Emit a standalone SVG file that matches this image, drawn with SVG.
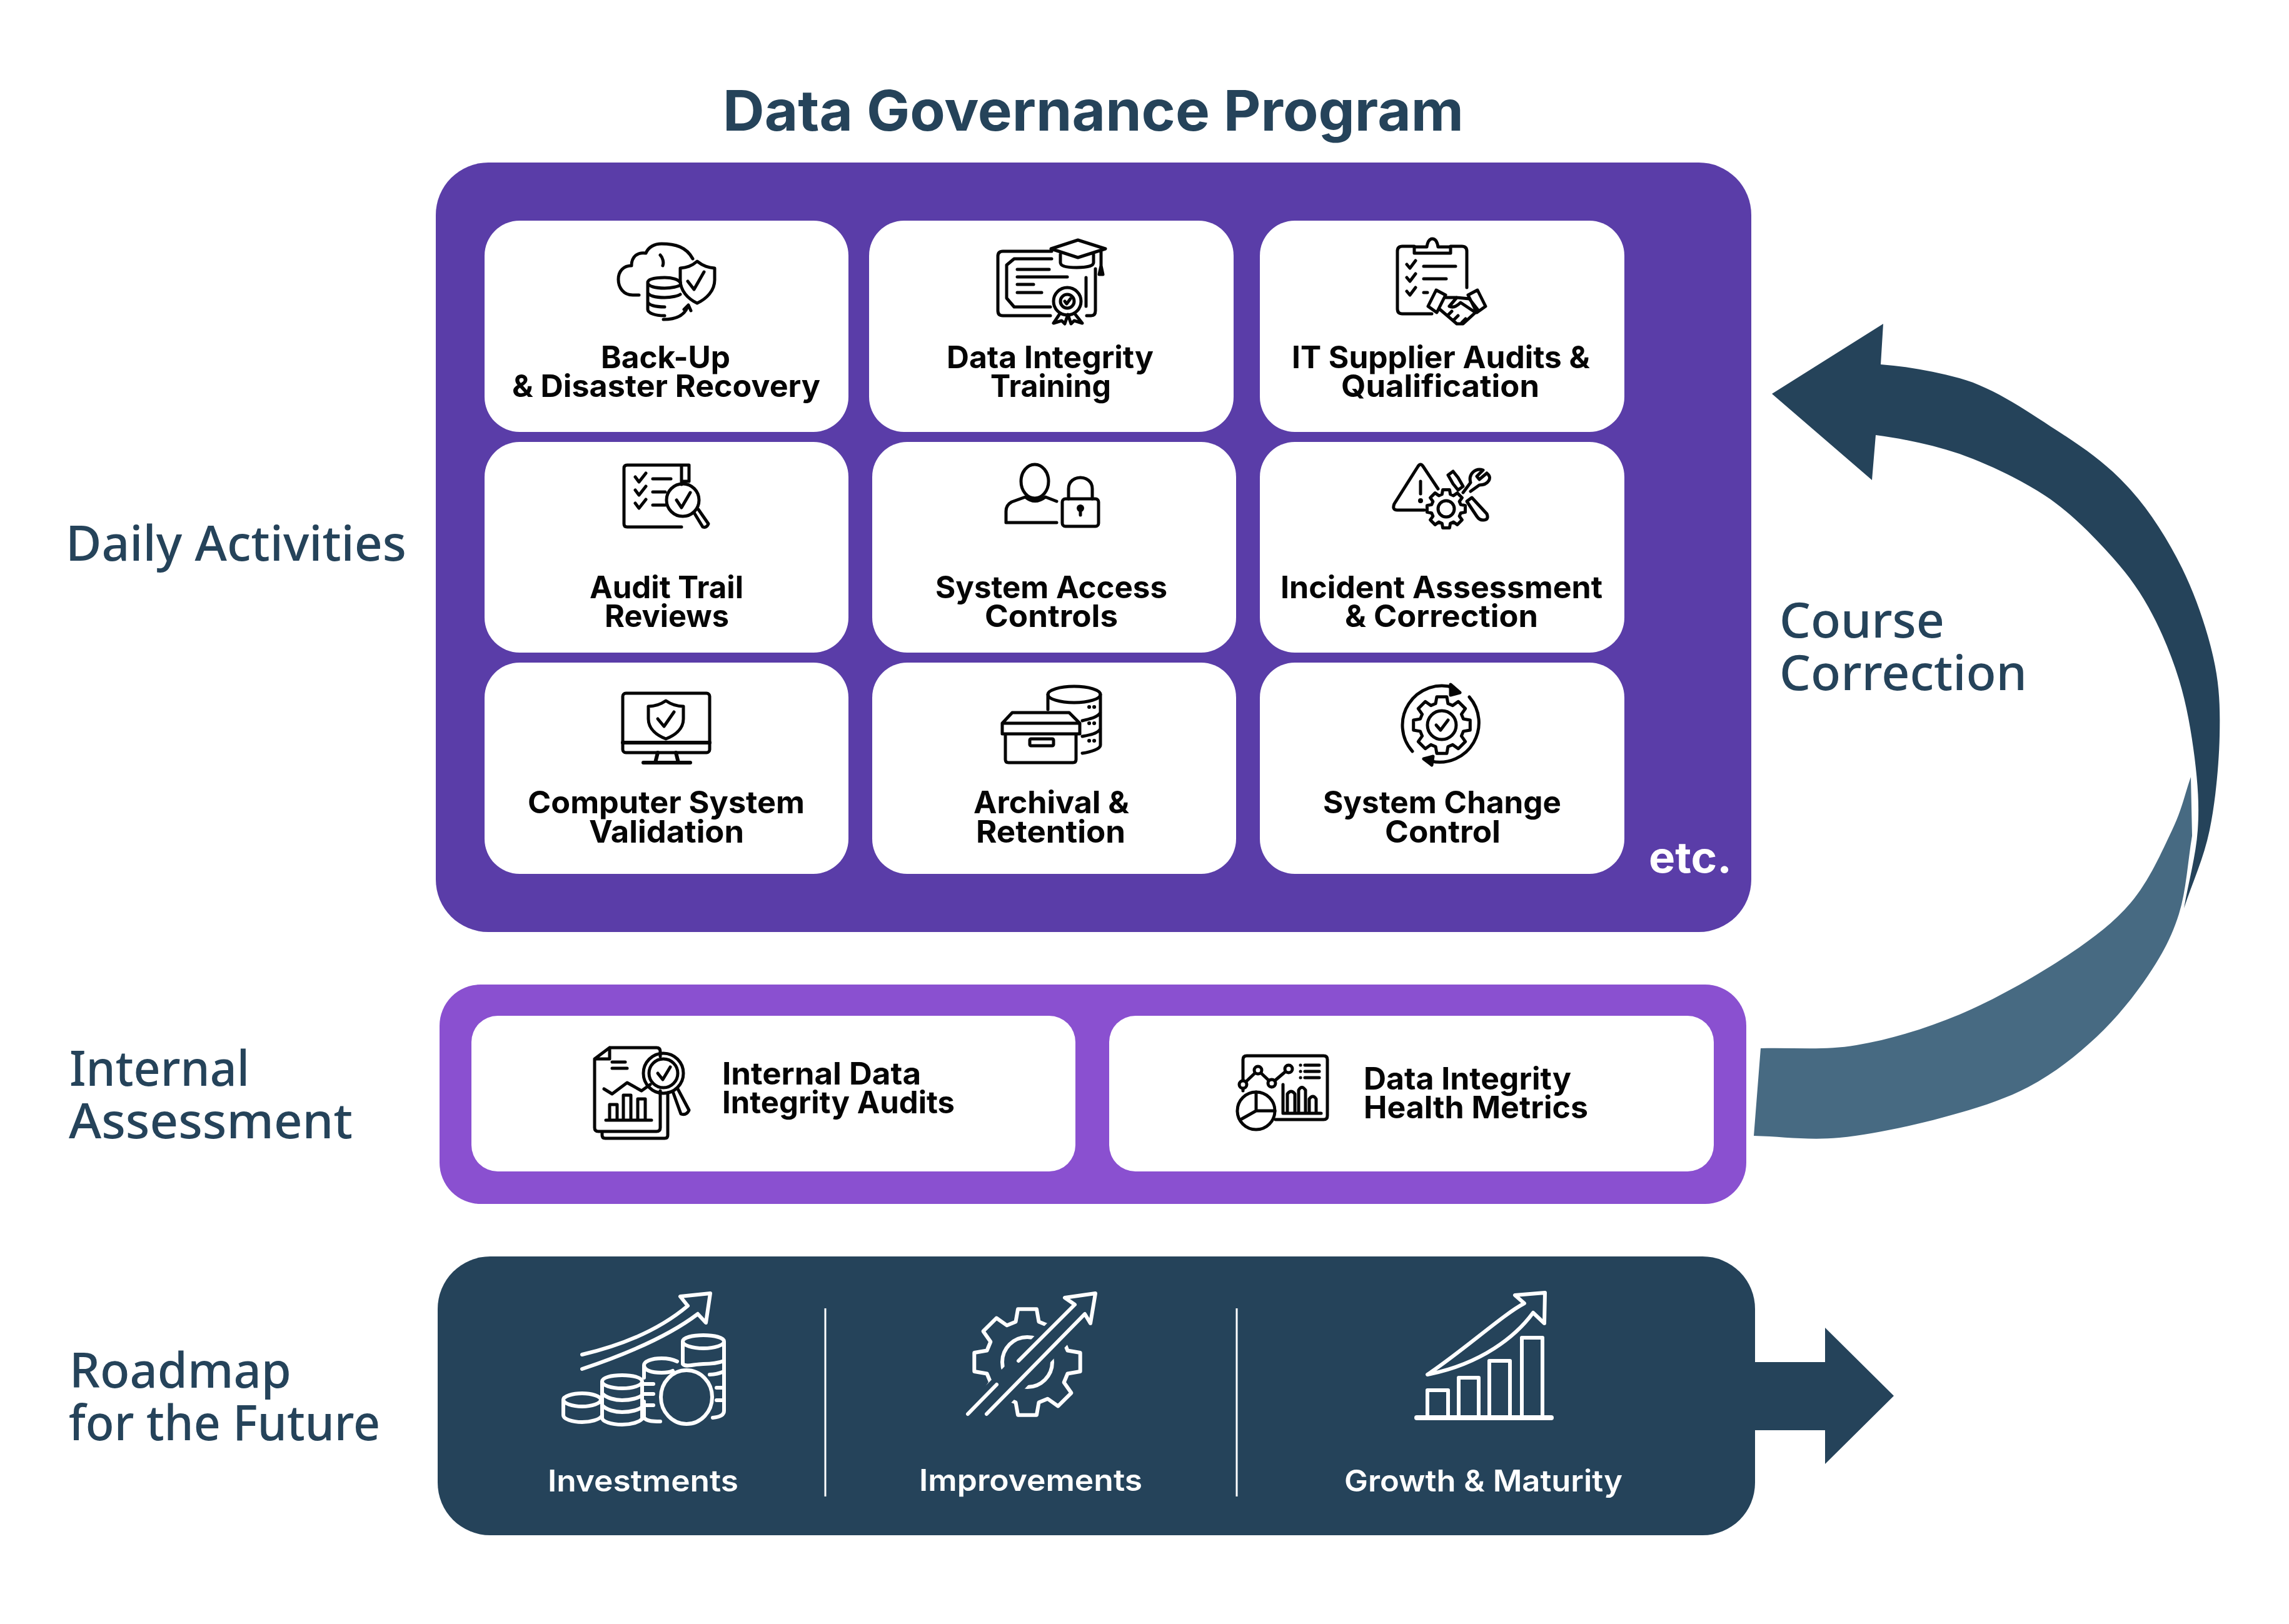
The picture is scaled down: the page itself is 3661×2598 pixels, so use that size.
<svg xmlns="http://www.w3.org/2000/svg" width="3661" height="2598" viewBox="0 0 3661 2598">
<style>
.w{fill:#fff}
.ln{font-family:"Inter","Liberation Sans",sans-serif;font-weight:700;font-size:49px;fill:#050505}
.wt{font-family:"Inter","Liberation Sans",sans-serif;font-weight:600;font-size:48px;fill:#fff}
.side{font-family:"Noto Sans","Liberation Sans",sans-serif;font-weight:500;font-size:78px;fill:#25435a}
.title{font-family:"Inter","Liberation Sans",sans-serif;font-weight:700;font-size:90px;fill:#25435a}
.etc{font-family:"Inter","Liberation Sans",sans-serif;font-weight:700;font-size:68px;fill:#fff}
.i{fill:none;stroke:#050505;stroke-width:5;stroke-linecap:round;stroke-linejoin:round}
.j{fill:none;stroke:#fff;stroke-width:6;stroke-linecap:round;stroke-linejoin:round}
.f{fill:#050505;stroke:none}
.ns{vector-effect:non-scaling-stroke}
</style>
<defs>
<polygon id="gear" class="ns" points="75,-21.5 98.5,-17.4 98.5,17.4 75,21.5 68.2,37.8 81.9,57.3 57.3,81.9 37.8,68.2 21.5,75 17.4,98.5 -17.4,98.5 -21.5,75 -37.8,68.2 -57.3,81.9 -81.9,57.3 -68.2,37.8 -75,21.5 -98.5,17.4 -98.5,-17.4 -75,-21.5 -68.2,-37.8 -81.9,-57.3 -57.3,-81.9 -37.8,-68.2 -21.5,-75 -17.4,-98.5 17.4,-98.5 21.5,-75 37.8,-68.2 57.3,-81.9 81.9,-57.3 68.2,-37.8"/>
</defs>
<rect width="3661" height="2598" fill="#fff"/>
<text class="title" x="1156" y="209" textLength="1185" lengthAdjust="spacingAndGlyphs">Data Governance Program</text>
<g id="labels">
<text class="side" x="105" y="897" textLength="545" lengthAdjust="spacingAndGlyphs">Daily Activities</text>
<text class="side" x="111" y="1737" textLength="288" lengthAdjust="spacingAndGlyphs">Internal</text>
<text class="side" x="110" y="1821" textLength="454" lengthAdjust="spacingAndGlyphs">Assessment</text>
<text class="side" x="111" y="2220" textLength="355" lengthAdjust="spacingAndGlyphs">Roadmap</text>
<text class="side" x="110" y="2304" textLength="498" lengthAdjust="spacingAndGlyphs">for the Future</text>
<text class="side" x="2846" y="1020" textLength="264" lengthAdjust="spacingAndGlyphs">Course</text>
<text class="side" x="2846" y="1104" textLength="396" lengthAdjust="spacingAndGlyphs">Correction</text>
</g>
<g id="connectors">
<path id="course-correction-lower" fill="#476a82" d="M2816 1677 C2867 1675.3 2916 1681 2969 1672 C3022 1663 3079.2 1646 3134 1623 C3188.8 1600 3252.3 1563.8 3298 1534 C3343.7 1504.2 3378.7 1478.3 3408 1444 C3437.3 1409.7 3458 1361.5 3474 1328 C3490 1294.5 3494 1271.3 3504 1243 L3506 1337 C3499 1378.7 3496.7 1424.8 3485 1462 C3473.3 1499.2 3458 1527.2 3436 1560 C3414 1592.8 3385 1629.2 3353 1659 C3321 1688.8 3285.2 1717.5 3244 1739 C3202.8 1760.5 3156.3 1774.5 3106 1788 C3055.7 1801.5 2992.2 1815.2 2942 1820 C2891.8 1824.8 2850.7 1818 2805 1817 Z"/>
<path id="course-correction-upper" fill="#25435a" d="M2834 630 L3012 518 L3008 583 C3050 586 3092 594 3134 605 C3190 620 3250 663 3298 694 C3343.7 723.8 3376 748.2 3408 784 C3440 819.8 3468 864.3 3490 909 C3512 953.7 3530 1007.3 3540 1052 C3550 1096.7 3551 1131 3550 1177 C3549 1223 3543.5 1282 3534 1328 C3524.5 1374 3506.7 1411.3 3493 1453 C3500.3 1411.3 3512.2 1368.2 3515 1328 C3517.8 1287.8 3515 1252.2 3510 1212 C3505 1171.8 3497.3 1127.2 3485 1087 C3472.7 1046.8 3455.2 1005.2 3436 971 C3416.8 936.8 3397.5 911.7 3370 882 C3342.5 852.3 3310.3 819 3271 793 C3231.7 767 3179.2 742.2 3134 726 C3088.8 711 3044.7 702 3000 696 L2994 768 Z"/>
<path id="roadmap-arrow" fill="#25435a" d="M2800 2179 H2919 V2124 L3029 2233 L2919 2342 V2288 H2800 Z"/>
</g>
<g id="daily-activities"><rect x="697" y="260" width="2104" height="1231" rx="84" fill="#5a3da8"/>
<text class="etc" x="2637" y="1396" textLength="133" lengthAdjust="spacingAndGlyphs">etc.</text></g>

<g id="backup"><rect class="w" x="775" y="353" width="582" height="338" rx="56"/>
<g class="i"><path d="M1022 472 H1012 C997 472 989 460 989 447 C989 433 998 425 1010 425 C1010 410 1020 403 1033 405 C1037 395 1047 390 1058 390 C1080 390 1098 395 1108 414 M1056 408 C1060 412 1062 420 1060 425"/>
<path d="M1036 452 V495 C1036 501 1048 505 1063 505 M1036 452 C1036 446 1048 444 1063 444 C1075 444 1085 447 1088 452 M1036 452 C1036 458 1048 461 1063 461 C1075 461 1085 458 1088 456 M1036 467 C1036 473 1048 476 1063 476 C1075 476 1085 473 1088 471 M1036 482 C1036 488 1048 491 1063 491"/>
<path d="M1115 418 C1125 426 1133 428 1143 429 V448 C1143 465 1130 478 1115 485 C1100 478 1088 465 1088 448 V429 C1098 428 1106 426 1115 418 Z M1100 450 L1110 463 L1126 435"/>
<path d="M1061 511 C1080 511 1095 505 1100 490 M1094 495 L1101 488 L1105 497"/></g>
<text class="ln" x="961" y="589" textLength="207" lengthAdjust="spacingAndGlyphs">Back-Up</text>
<text class="ln" x="819" y="635" textLength="493" lengthAdjust="spacingAndGlyphs">&amp; Disaster Recovery</text></g>

<g id="training"><rect class="w" x="1390" y="353" width="583" height="338" rx="56"/>
<g class="i"><path d="M1682 402 H1604 Q1596 402 1596 410 V497 Q1596 505 1604 505 H1680 M1682 414 H1622 L1610 424 V477 L1622 491 H1680 M1738 505 H1745 Q1752 505 1752 497 V430 M1737 444 V490"/>
<path d="M1627 431 H1678 M1627 443 H1707 M1627 455 H1653 M1627 468 H1666"/>
<path d="M1724 384 L1768 398 L1724 412 L1681 398 Z M1696 407 V420 Q1696 428 1722 428 Q1749 428 1749 420 V407 M1761 402 V425 M1758 439 L1761 425 L1764 439 Z"/>
<circle cx="1707" cy="482" r="22"/><circle cx="1707" cy="482" r="11"/><path d="M1695 502 L1685 517 L1698 513 L1703 518 L1708 503 L1713 518 L1718 513 L1731 517 L1719 502"/><path d="M1703 482 L1706 486 L1712 478"/></g>
<text class="ln" x="1514" y="589" textLength="331" lengthAdjust="spacingAndGlyphs">Data Integrity</text>
<text class="ln" x="1584" y="635" textLength="193" lengthAdjust="spacingAndGlyphs">Training</text></g>

<g id="supplier"><rect class="w" x="2015" y="353" width="583" height="338" rx="56"/>
<g class="i"><path d="M2262 394 H2243 Q2235 394 2235 402 V494 Q2235 502 2243 502 H2290 M2320 394 H2338 Q2346 394 2346 402 V460"/>
<path d="M2262 395 H2282 Q2284 382 2291 382 Q2298 382 2300 395 H2320 V405 H2262 Z"/>
<path d="M2250 423 L2255 429 L2264 417 M2250 444 L2255 450 L2264 438 M2250 466 L2255 472 L2264 460 M2277 426 H2328 M2277 446 H2313 M2277 468 H2283"/>
<path d="M2284 490 L2297 464 L2312 472 L2298 500 Z M2376 490 L2363 464 L2348 472 L2362 500 Z M2312 476 H2330 L2350 478 L2364 496 L2340 518 L2330 518 L2303 495 M2330 476 L2318 490 Q2326 494 2336 484 L2360 500 M2316 504 L2322 498 M2325 512 L2332 505 M2338 516 L2344 510"/></g>
<text class="ln" x="2066" y="589" textLength="477" lengthAdjust="spacingAndGlyphs">IT Supplier Audits &amp;</text>
<text class="ln" x="2145" y="635" textLength="317" lengthAdjust="spacingAndGlyphs">Qualification</text></g>

<g id="audit-trail"><rect class="w" x="775" y="707" width="582" height="337" rx="56"/>
<g class="i"><path d="M1090 843 H1003 Q998 843 998 838 V749 Q998 744 1003 744 H1102 V770 H1090 V744 M1090 770 V775"/>
<path d="M1016 763 L1022 771 L1033 757 M1016 784 L1022 792 L1033 778 M1016 805 L1022 813 L1033 799 M1044 766 H1073 M1044 787 H1064 M1044 808 H1064"/>
<circle cx="1092" cy="800" r="26"/><path d="M1082 800 L1090 812 L1104 788"/>
<path d="M1110 820 L1124 843 Q1130 845 1133 838 L1117 815"/></g>
<text class="ln" x="943" y="957" textLength="246" lengthAdjust="spacingAndGlyphs">Audit Trail</text>
<text class="ln" x="967" y="1003" textLength="199" lengthAdjust="spacingAndGlyphs">Reviews</text></g>

<g id="access"><rect class="w" x="1395" y="707" width="582" height="337" rx="56"/>
<g class="i"><ellipse cx="1655" cy="770" rx="22" ry="27"/><path d="M1690 802 L1672 795 Q1655 808 1640 795 L1618 803 Q1609 808 1609 818 V836 H1690"/>
<rect x="1699" y="798" width="58" height="44" rx="5"/><path d="M1709 798 V782 C1709 758 1747 758 1747 782 V798"/><circle class="f" cx="1728" cy="813" r="6"/><path d="M1728 813 V824"/></g>
<text class="ln" x="1496" y="957" textLength="371" lengthAdjust="spacingAndGlyphs">System Access</text>
<text class="ln" x="1575" y="1003" textLength="213" lengthAdjust="spacingAndGlyphs">Controls</text></g>

<g id="incident"><rect class="w" x="2015" y="707" width="583" height="337" rx="56"/>
<g class="i"><path d="M2278 816 H2235 Q2226 816 2230 806 L2268 746 Q2272 740 2276 746 L2300 782"/><path d="M2272 770 V790"/><circle class="f" cx="2272" cy="801" r="4"/>
<use href="#gear" transform="translate(2313 814) scale(.31)"/><circle cx="2313" cy="814" r="13"/>
<path d="M2316 760 L2324 754 L2332 764 L2340 778 L2332 784 L2324 774 Z M2378 757 L2366 767 L2362 762 L2372 752 C2360 748 2348 758 2352 772 L2340 788 M2352 786 L2366 776 C2380 776 2388 764 2378 757"/>
<path d="M2346 802 L2354 796 L2378 822 Q2382 832 2372 832 Q2366 832 2362 826 Z"/></g>
<text class="ln" x="2048" y="957" textLength="515" lengthAdjust="spacingAndGlyphs">Incident Assessment</text>
<text class="ln" x="2151" y="1003" textLength="309" lengthAdjust="spacingAndGlyphs">&amp; Correction</text></g>

<g id="csv"><rect class="w" x="775" y="1060" width="582" height="338" rx="56"/>
<g class="i"><rect x="996" y="1109" width="139" height="95" rx="5"/><path d="M996 1188 H1135 M1052 1204 L1048 1220 M1081 1204 L1085 1220 M1029 1220 H1104" stroke-width="6"/>
<path d="M1065 1121 Q1078 1130 1093 1130 V1150 C1093 1167 1078 1177 1065 1182 C1052 1177 1037 1167 1037 1150 V1130 Q1052 1130 1065 1121 Z M1052 1150 L1062 1162 L1078 1139"/></g>
<text class="ln" x="844" y="1301" textLength="443" lengthAdjust="spacingAndGlyphs">Computer System</text>
<text class="ln" x="942" y="1348" textLength="248" lengthAdjust="spacingAndGlyphs">Validation</text></g>

<g id="archival"><rect class="w" x="1395" y="1060" width="582" height="338" rx="56"/>
<g class="i"><ellipse cx="1718" cy="1111" rx="42" ry="13"/><path d="M1676 1111 V1135 M1760 1111 V1192 C1760 1198 1745 1203 1731 1205 M1760 1140 C1755 1148 1742 1150 1731 1153 M1760 1166 C1755 1174 1742 1176 1731 1178"/>
<path d="M1742 1131 h.1 M1750 1131 h.1 M1742 1157 h.1 M1750 1157 h.1 M1742 1185 h.1 M1750 1185 h.1" stroke-width="6"/>
<path d="M1603 1157 H1727 V1174 H1603 Z M1603 1157 L1619 1140 H1710 L1727 1157 M1608 1174 V1215 Q1608 1220 1613 1220 H1716 Q1721 1220 1721 1215 V1174"/><rect x="1647" y="1182" width="38" height="11" rx="2"/></g>
<text class="ln" x="1557" y="1301" textLength="249" lengthAdjust="spacingAndGlyphs">Archival &amp;</text>
<text class="ln" x="1561" y="1348" textLength="239" lengthAdjust="spacingAndGlyphs">Retention</text></g>

<g id="change-control"><rect class="w" x="2015" y="1060" width="583" height="338" rx="56"/>
<g class="i"><use href="#gear" transform="translate(2306 1160) scale(.46)"/><circle cx="2306" cy="1160" r="23"/><path d="M2297 1160 L2304 1168 L2316 1152"/>
<path d="M2259 1202 A63 63 0 0 1 2325 1100 M2350 1115 A63 63 0 0 1 2290 1218"/>
<path d="M2320 1095 L2335 1108 L2320 1112 Z M2292 1210 L2277 1214 L2290 1224 Z" fill="#050505"/></g>
<text class="ln" x="2116" y="1301" textLength="381" lengthAdjust="spacingAndGlyphs">System Change</text>
<text class="ln" x="2215" y="1348" textLength="185" lengthAdjust="spacingAndGlyphs">Control</text></g>

<g id="internal-assessment"><rect x="703" y="1575" width="2090" height="351" rx="66" fill="#8a50d0"/></g>

<g id="internal-audits"><rect class="w" x="754" y="1625" width="966" height="249" rx="42"/>
<g class="i"><path d="M975 1676 H1050 Q1056 1676 1056 1682 V1690 M1056 1745 V1804 Q1056 1810 1050 1810 H957 Q951 1810 951 1804 V1694 L975 1676 V1694 H951 M963 1810 V1816 Q963 1821 968 1821 H1063 Q1068 1821 1068 1816 V1748"/>
<path d="M979 1699 H1000 M979 1709 H1003 M966 1742 L979 1750 L1003 1732 L1026 1745 L1040 1735 M969 1792 H1042 M975 1792 V1767 H987 V1792 M997 1792 V1752 H1009 V1792 M1020 1792 V1758 H1032 V1792"/>
<circle cx="1061" cy="1717" r="32"/><circle cx="1061" cy="1717" r="23"/><path d="M1052 1717 L1060 1727 L1072 1707"/><path d="M1076 1746 L1089 1782 Q1098 1785 1102 1776 L1084 1742"/></g>
<text class="ln" x="1155" y="1735" textLength="318" lengthAdjust="spacingAndGlyphs">Internal Data</text>
<text class="ln" x="1155" y="1781" textLength="372" lengthAdjust="spacingAndGlyphs">Integrity Audits</text></g>

<g id="health-metrics"><rect class="w" x="1774" y="1625" width="967" height="249" rx="42"/>
<g class="i"><path d="M1988 1745 V1695 Q1988 1689 1994 1689 H2117 Q2123 1689 2123 1695 V1785 Q2123 1791 2117 1791 H2040"/>
<path d="M1988 1735 L2012 1712 L2034 1733 L2061 1710"/>
<g fill="#fff"><circle cx="1988" cy="1735" r="6"/><circle cx="2012" cy="1712" r="6"/><circle cx="2034" cy="1733" r="6"/><circle cx="2061" cy="1710" r="6"/></g>
<path d="M2080 1704 h.1 M2087 1704 H2110 M2080 1714 h.1 M2087 1714 H2110 M2080 1724 h.1 M2087 1724 H2110 M2052 1735 V1781 H2113 M2059 1781 V1750 Q2065 1742 2071 1750 V1781 M2077 1781 V1744 Q2082 1735 2088 1744 V1781 M2094 1781 V1758 Q2100 1750 2105 1758 V1781"/>
<circle cx="2009" cy="1777" r="30" fill="#fff"/><path d="M2009 1777 V1747 M2009 1777 H2039 M2009 1777 L1986 1790"/></g>
<text class="ln" x="2181" y="1743" textLength="332" lengthAdjust="spacingAndGlyphs">Data Integrity</text>
<text class="ln" x="2181" y="1789" textLength="359" lengthAdjust="spacingAndGlyphs">Health Metrics</text></g>

<g id="roadmap"><rect x="700" y="2010" width="2107" height="446" rx="84" fill="#25435a"/>
<path d="M1320 2093 V2394 M1978 2093 V2394" stroke="#fff" stroke-width="3" fill="none"/></g>

<g id="investments"><g class="j" transform="translate(0 2)"><path d="M931 2165 C995 2150 1055 2125 1100 2087 M931 2188 C1000 2165 1070 2135 1116 2100 M1100 2087 L1088 2072 L1136 2067 L1129 2114 L1116 2100"/>
<path d="M901 2237 C901 2232 915 2227 931 2227 C947 2227 961 2232 961 2237 C961 2243 947 2248 931 2248 C915 2248 901 2243 901 2237 Z M901 2237 V2262 C901 2268 915 2273 931 2273 C945 2273 958 2269 962 2264"/>
<path d="M963 2208 C963 2202 977 2198 995 2198 C1013 2198 1027 2202 1027 2208 C1027 2214 1013 2219 995 2219 C977 2219 963 2214 963 2208 Z M963 2208 V2266 C963 2272 977 2277 995 2277 C1010 2277 1022 2273 1027 2268 M1027 2208 V2266 M963 2227 C970 2235 985 2238 995 2238 C1010 2238 1022 2234 1027 2230 M963 2246 C970 2254 985 2257 995 2257 C1010 2257 1022 2253 1027 2249"/>
<path d="M1083 2176 C1075 2172 1067 2171 1058 2171 C1042 2171 1030 2176 1030 2182 C1030 2190 1042 2194 1058 2194 C1066 2194 1072 2193 1076 2191 M1030 2182 V2202 M1030 2240 V2266 C1035 2272 1045 2272 1056 2272 M1030 2212 H1045 M1030 2228 H1045 M1030 2246 H1045"/>
<ellipse cx="1098" cy="2233" rx="41" ry="43"/>
<path d="M1092 2144 C1092 2138 1107 2134 1125 2134 C1143 2134 1158 2138 1158 2144 C1158 2150 1143 2155 1125 2155 C1107 2155 1092 2150 1092 2144 Z M1092 2144 V2180 C1097 2186 1110 2180 1125 2180 C1140 2180 1150 2178 1158 2175 M1158 2144 V2255 C1158 2262 1150 2265 1140 2266 M1135 2197 C1145 2197 1150 2195 1158 2192 M1146 2218 H1158 M1146 2238 H1158"/></g>
<text class="wt" x="876" y="2386" textLength="305" lengthAdjust="spacingAndGlyphs">Investments</text></g>

<g id="improvements"><g transform="translate(0 2)">
<g class="j"><use href="#gear" transform="translate(1643 2177) scale(.86)"/><circle cx="1643" cy="2177" r="40"/></g>
<polygon points="1538,2254 1712,2077 1747,2108 1592,2268 1538,2268" fill="#25435a"/>
<g class="j"><path d="M1548 2260 L1594 2213 M1629 2175 L1719 2085 L1703 2074 L1752 2067 L1744 2115 L1735 2100 L1578 2260"/></g></g>
<text class="wt" x="1470" y="2385" textLength="357" lengthAdjust="spacingAndGlyphs">Improvements</text></g>

<g id="growth"><g class="j" transform="translate(0 2)"><path d="M2266 2266 H2481" stroke-width="8"/><path d="M2283 2266 V2222 H2316 V2266 M2333 2266 V2202 H2365 V2266 M2382 2266 V2175 H2415 V2266 M2434 2266 V2138 H2467 V2266"/>
<path d="M2283 2197 C2345 2155 2405 2100 2438 2083 L2423 2070 L2471 2066 L2470 2115 L2452 2098 C2425 2135 2370 2180 2283 2197 Z"/></g>
<text class="wt" x="2150" y="2386" textLength="445" lengthAdjust="spacingAndGlyphs">Growth &amp; Maturity</text></g>
</svg>
